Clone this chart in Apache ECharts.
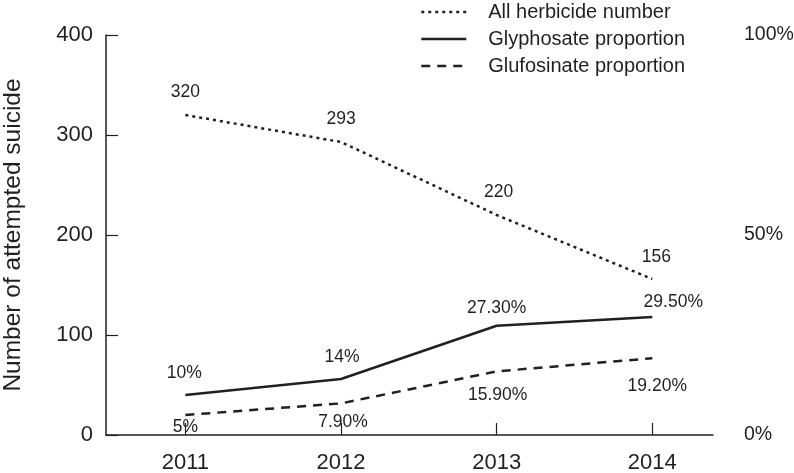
<!DOCTYPE html>
<html>
<head>
<meta charset="utf-8">
<script src="https://cdn.jsdelivr.net/npm/echarts@6/dist/echarts.min.js"></script>
<style>
html,body{margin:0;padding:0;background:#fff;}
#c{width:794px;height:473px;}
</style>
</head>
<body>
<div id="c"></div>
<script>
const years = [2011, 2012, 2013, 2014];
const allHerbicide = [320, 293, 220, 156];
const glyphosate = [10, 14, 27.3, 29.5];
const glufosinate = [5, 7.9, 15.9, 19.2];
const herbicideLabels = ['320', '293', '220', '156'];
const glyphosateLabels = ['10%', '14%', '27.30%', '29.50%'];
const glufosinateLabels = ['5%', '7.90%', '15.90%', '19.20%'];
const leftTicks = [0, 100, 200, 300, 400];
const rightTicks = [0, 50, 100];

const ink = '#231f20';
const FONT = 'Liberation Sans, Arial, sans-serif';

// label placement (style, not data)
const offHerb = [[0,-23],[0,-23],[2,-23],[4,-22]];
const offGlyp = [[-1,-22],[1,-22],[0,-18],[21,-15]];
const offGluf = [[0,12],[2,19],[1,24],[5,28]];

function build(vals, labels, offs) {
  return vals.map((v, i) => ({
    value: [years[i], v],
    label: { formatter: labels[i], offset: offs[i] }
  }));
}

const labelBase = { show: true, position: 'inside', color: ink, fontSize: 17.5, fontFamily: FONT };

const chart = echarts.init(document.getElementById('c'), null, { renderer: 'canvas' });
chart.setOption({
  animation: false,
  backgroundColor: '#fff',
  textStyle: { fontFamily: FONT, color: ink },
  grid: { left: 106, right: 81, top: 35, bottom: 38, containLabel: false, outerBoundsMode: 'none' },
  legend: {
    orient: 'vertical',
    left: 415,
    top: -3,
    itemWidth: 45,
    itemHeight: 14,
    itemGap: 7,
    itemStyle: { opacity: 0 },
    lineStyle: { width: 2.5 },
    textStyle: { fontSize: 20, color: ink, fontFamily: FONT, padding: [0,0,0,17] },
    data: ['All herbicide number', 'Glyphosate proportion', 'Glufosinate proportion']
  },
  xAxis: {
    type: 'value',
    min: 2010.49,
    max: 2014.39,
    axisLine: { show: true, lineStyle: { color: ink, width: 1.5 } },
    axisTick: { show: true, inside: true, length: 12, customValues: years, lineStyle: { color: ink, width: 1.2 } },
    axisLabel: { customValues: years, formatter: v => String(v), fontSize: 22, color: ink, margin: 17, fontFamily: FONT },
    splitLine: { show: false }
  },
  yAxis: [
    {
      type: 'value', min: 0, max: 400, interval: 100,
      name: 'Number of attempted suicide',
      nameLocation: 'middle',
      nameGap: 80,
      nameRotate: 90,
      nameTextStyle: { fontSize: 24.5, color: ink, fontFamily: FONT },
      axisLine: { show: true, lineStyle: { color: ink, width: 1.5 } },
      axisTick: { show: true, inside: true, length: 12, lineStyle: { color: ink, width: 1.2 } },
      axisLabel: { fontSize: 22, color: ink, margin: 13, fontFamily: FONT },
      splitLine: { show: false }
    },
    {
      type: 'value', min: 0, max: 100, interval: 50,
      position: 'right',
      axisLine: { show: false },
      axisTick: { show: false },
      axisLabel: { formatter: '{value}%', fontSize: 19.5, color: ink, margin: 31, fontFamily: FONT },
      splitLine: { show: false }
    }
  ],
  series: [
    {
      name: 'All herbicide number', type: 'line', yAxisIndex: 0,
      symbol: 'circle', symbolSize: 0,
      lineStyle: { color: ink, width: 2.5, type: [3, 4] },
      itemStyle: { color: ink },
      label: labelBase,
      data: build(allHerbicide, herbicideLabels, offHerb)
    },
    {
      name: 'Glyphosate proportion', type: 'line', yAxisIndex: 1,
      symbol: 'circle', symbolSize: 0,
      lineStyle: { color: ink, width: 2.5, type: 'solid' },
      itemStyle: { color: ink },
      label: labelBase,
      data: build(glyphosate, glyphosateLabels, offGlyp)
    },
    {
      name: 'Glufosinate proportion', type: 'line', yAxisIndex: 1,
      symbol: 'circle', symbolSize: 0,
      lineStyle: { color: ink, width: 2.5, type: [9, 7] },
      itemStyle: { color: ink },
      label: labelBase,
      data: build(glufosinate, glufosinateLabels, offGluf)
    }
  ]
});
</script>
</body>
</html>
